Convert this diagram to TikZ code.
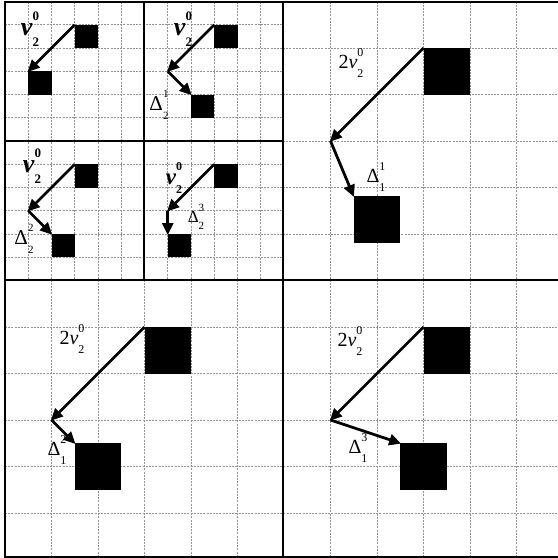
\documentclass[tikz,border=0pt]{standalone}
\usepackage{fontspec}
\setmainfont{Liberation Serif}
\usetikzlibrary{arrows.meta}
\newcommand\lab[4]{#1\rlap{\raisebox{0.6em}{\fontsize{#4}{#4}\selectfont #2}}\raisebox{-0.42em}{\fontsize{#4}{#4}\selectfont #3}}
\tikzset{
  gridline/.style={gray!85, line width=0.6pt, dash pattern=on 2pt off 1.2pt},
  divider/.style={black, line width=2pt},
  smallsq/.style={fill=black, draw=none, inner sep=0pt, minimum size=23.25pt, anchor=north west},
  bigsq/.style={fill=black, draw=none, inner sep=0pt, minimum size=46.5pt, anchor=north west},
  arr/.style={line width=2.8pt, -{Triangle[length=12pt,width=11pt]}, shorten >=-1pt},
  smalllab/.style={inner sep=0pt, font=\fontsize{26}{26}\selectfont\bfseries},
  deltalab/.style={inner sep=0pt, font=\fontsize{21}{21}\selectfont},
  biglab/.style={inner sep=0pt, font=\fontsize{20}{20}\selectfont},
}
\begin{document}
\begin{tikzpicture}[x=1pt,y=-1pt]
\useasboundingbox (0,0) rectangle (558,558);
\fill[white] (0,0) rectangle (558,558);
% grid: big cells
\foreach \x in {330.5,377,423.5,470,516.5} \draw[gridline] (\x,1.5) -- (\x,556.5);
\foreach \x in {51.5,98,144.5,191,237.5} \draw[gridline] (\x,279.5) -- (\x,556.5);
\foreach \y in {327,373.5,420,466.5,513} \draw[gridline] (5,\y) -- (558,\y);
\foreach \y in {48,94.5,141,187.5,234} \draw[gridline] (283,\y) -- (558,\y);
% grid: small cells
\foreach \x in {28.25,51.5,74.75,98,121.25,167.75,191,214.25,237.5,260.75} \draw[gridline] (\x,1.5) -- (\x,279.5);
\foreach \y in {24.75,48,71.25,94.5,117.75,164.25,187.5,210.75,234,257.25} \draw[gridline] (5,\y) -- (283,\y);
% dividers and frame
\draw[divider] (283,1.5) -- (283,556.5);
\draw[divider] (4.5,279.5) -- (558,279.5);
\draw[divider] (144.3,1.5) -- (144.3,279.5);
\draw[divider] (4.5,141) -- (283,141);
\draw[divider] (558,1.5) -- (4.5,1.5) -- (4.5,556.5) -- (558,556.5);
% panel 1
\node[smallsq] (a1) at (74.75,24.75) {};
\node[smallsq] (b1) at (28.25,71.25) {};
\draw[arr] (a1.north west) -- (b1.north west);
\node[smalllab] (l1) at (30,29) {\lab{\textit{v}}{0}{2}{13}};
% panel 2
\node[smallsq] (a2) at (214.25,24.75) {};
\coordinate (p2) at (167.75,71.25);
\node[smallsq] (b2) at (191,94.5) {};
\draw[arr] (a2.north west) -- (p2);
\draw[arr] (p2) -- (b2.north west);
\node[smalllab] (l2) at (183,29) {\lab{\textit{v}}{0}{2}{13}};
\node[deltalab] (d2) at (159,105) {\lab{Δ}{1}{2}{11}};
% panel 3
\node[smallsq] (a3) at (74.75,164.25) {};
\coordinate (p3) at (28.25,210.75);
\node[smallsq] (b3) at (51.5,234) {};
\draw[arr] (a3.north west) -- (p3);
\draw[arr] (p3) -- (b3.north west);
\node[smalllab] (l3) at (32,166) {\lab{\textit{v}}{0}{2}{13}};
\node[deltalab] (d3) at (24,239) {\lab{Δ}{2}{2}{11}};
% panel 4
\node[smallsq] (a4) at (214.25,164.25) {};
\coordinate (p4) at (167.75,210.75);
\node[smallsq] (b4) at (167.75,234) {};
\draw[arr] (a4.north west) -- (p4);
\draw[arr] (p4) -- (b4.north west);
\node[smalllab, font=\fontsize{23}{23}\selectfont\bfseries] (l4) at (174,178) {\lab{\textit{v}}{0}{2}{12}};
\node[deltalab, font=\fontsize{17}{17}\selectfont] (d4) at (196,217) {\lab{Δ}{3}{2}{11}};
% big panel top right
\node[bigsq] (a5) at (423.5,48) {};
\coordinate (p5) at (330.5,141);
\node[bigsq] (b5) at (353.5,196) {};
\draw[arr] (a5.north west) -- (p5);
\draw[arr] (p5) -- (b5.north west);
\node[biglab] (l5) at (351,63) {\lab{2\textit{v}}{0}{2}{12}};
\node[biglab] (d5) at (376,177) {\lab{Δ}{1}{1}{12}};
% big panel bottom left
\node[bigsq] (a6) at (144.5,327) {};
\coordinate (p6) at (51.5,420);
\node[bigsq] (b6) at (74.75,443.25) {};
\draw[arr] (a6.north west) -- (p6);
\draw[arr] (p6) -- (b6.north west);
\node[biglab] (l6) at (72,339) {\lab{2\textit{v}}{0}{2}{12}};
\node[biglab] (d6) at (57,450) {\lab{Δ}{2}{1}{12}};
% big panel bottom right
\node[bigsq] (a7) at (423.5,327) {};
\coordinate (p7) at (330.5,420);
\node[bigsq] (b7) at (400.25,443.25) {};
\draw[arr] (a7.north west) -- (p7);
\draw[arr] (p7) -- (b7.north west);
\node[biglab] (l7) at (350,341) {\lab{2\textit{v}}{0}{2}{12}};
\node[biglab] (d7) at (358,448) {\lab{Δ}{3}{1}{12}};
\end{tikzpicture}
\end{document}
